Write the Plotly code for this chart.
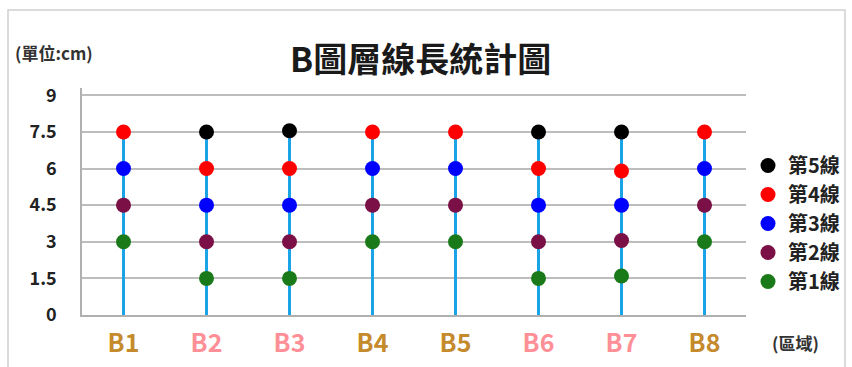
import plotly.graph_objects as go

categories = ["B1", "B2", "B3", "B4", "B5", "B6", "B7", "B8"]
label_colors = ["#C48A2C", "#FF8F96", "#FF8F96", "#C48A2C", "#C48A2C", "#FF8F96", "#FF8F96", "#C48A2C"]
line1 = [3, 1.5, 1.5, 3, 3, 1.5, 1.6, 3]
line2 = [4.5, 3, 3, 4.5, 4.5, 3, 3.05, 4.5]
line3 = [6, 4.5, 4.5, 6, 6, 4.5, 4.5, 6]
line4 = [7.5, 6, 6, 7.5, 7.5, 6, 5.9, 7.5]
line5 = [None, 7.5, 7.55, None, None, 7.5, 7.5, None]
series_names = ["第5線", "第4線", "第3線", "第2線", "第1線"]
series_values = [line5, line4, line3, line2, line1]
series_colors = ["#000000", "#FF0000", "#0000FF", "#7A1045", "#1A7A1A"]
y_ticks = [0, 1.5, 3, 4.5, 6, 7.5, 9]

FONT = "Noto Sans CJK TC"

fig = go.Figure()

# vertical stems from 0 to top value
sx, sy = [], []
for i, c in enumerate(categories):
    top = max(v[i] for v in series_values if v[i] is not None)
    sx += [c, c, None]
    sy += [0, top, None]
fig.add_trace(go.Scatter(x=sx, y=sy, mode="lines", line=dict(color="#1BA3E8", width=3),
                         showlegend=False, hoverinfo="skip"))

for name, vals, col in zip(series_names, series_values, series_colors):
    fig.add_trace(go.Scatter(x=categories, y=vals, mode="markers", name=name,
                             marker=dict(color=col, size=15, line=dict(width=0))))

W, H = 852, 367
L, R, T, B = 82, 106, 88, 52
pw = W - L - R
ph = H - T - B

def px_x(x):
    return (x - L) / pw

def px_y(y):
    return (H - B - y) / ph

fig.update_layout(
    width=W, height=H,
    margin=dict(l=L, r=R, t=T, b=B, autoexpand=False),
    paper_bgcolor="white", plot_bgcolor="white",
    font=dict(family=FONT),
    showlegend=True,
    legend=dict(x=px_x(748), y=px_y(146), xanchor="left", yanchor="top",
                font=dict(size=20, color="#222222", family=FONT, weight="bold"),
                itemwidth=30, tracegroupgap=0, bgcolor="rgba(0,0,0,0)"),
    xaxis=dict(
        type="category", categoryorder="array", categoryarray=categories,
        range=[-0.5, 7.5],
        tickvals=categories,
        ticktext=[f'<span style="color:{c}">{t}</span>' for t, c in zip(categories, label_colors)],
        tickfont=dict(size=25, family=FONT, weight="bold"),
        ticklabelstandoff=5,
        showgrid=False, showline=True, linecolor="#B0B0B0", linewidth=1.5,
        ticks="", zeroline=False,
    ),
    yaxis=dict(
        range=[0, 9.3], tickvals=y_ticks, ticktext=[str(t) for t in y_ticks],
        tickfont=dict(size=18, color="#222222", family=FONT, weight="bold"),
        ticklabelstandoff=20,
        showgrid=True, gridcolor="#BDBDBD", gridwidth=1.5,
        showline=True, linecolor="#B0B0B0", linewidth=1.5,
        zeroline=False, ticks="",
    ),
    annotations=[
        dict(text="B圖層線長統計圖", xref="paper", yref="paper", x=px_x(420), y=px_y(57),
             xanchor="center", yanchor="middle", showarrow=False,
             font=dict(size=34, color="#1A1A1A", family=FONT, weight="bold")),
        dict(text="(單位:cm)", xref="paper", yref="paper", x=px_x(13), y=px_y(52),
             xanchor="left", yanchor="middle", showarrow=False,
             font=dict(size=17, color="#333333", family=FONT, weight="bold")),
        dict(text="(區域)", xref="paper", yref="paper", x=px_x(770), y=px_y(342),
             xanchor="left", yanchor="middle", showarrow=False,
             font=dict(size=17, color="#333333", family=FONT, weight="bold")),
    ],
    shapes=[
        dict(type="rect", xref="paper", yref="paper",
             x0=px_x(8), x1=px_x(845), y0=px_y(380), y1=px_y(10),
             line=dict(color="#D0D0D0", width=1.5), fillcolor="rgba(0,0,0,0)", layer="below"),
    ],
)

fig.write_html("out.html")
